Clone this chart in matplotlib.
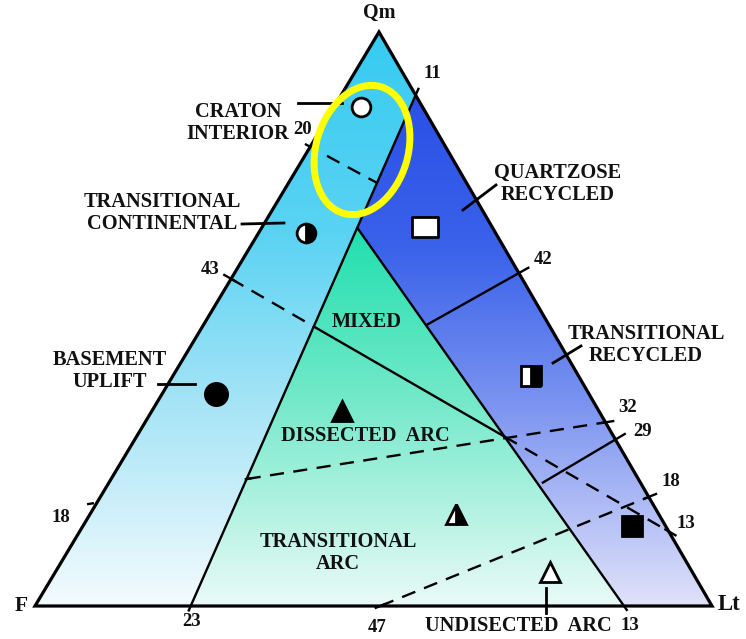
import numpy as np
import matplotlib.pyplot as plt
from matplotlib.patches import Polygon, Ellipse
from matplotlib.colors import LinearSegmentedColormap
from matplotlib.path import Path

# Dickinson QmFLt provenance diagram, all compositions as (Qm, F, Lt) percent

# field boundary lines
continental_line = [(0, 77, 23), (89, 0, 11)]
recycled_line = [(66, 20, 14), (0, 13, 87)]
line_42 = [(58, 0, 42), (49, 18, 33)]
line_29 = [(29, 0, 71), (21.4, 14.6, 64)]
line_43_13 = [(57, 43, 0), (13, 0, 87)]
line_18_32 = [(18, 82, 0), (32, 0, 68)]
line_47_18 = [(0, 49, 51), (19, 0, 81)]
line_20 = [(80, 20, 0), (73.7, 13.2, 13.1)]

# field symbols
sym_names = ['craton', 'trans_cont', 'basement', 'quartzose', 'trans_rec',
             'lithic_rec', 'dissected', 'trans_arc', 'undissected']
sym_qm = [87, 65, 37, 66, 40, 14, 34, 16, 6]
sym_f = [9, 28, 55, 10, 7, 5, 38, 30, 21]
sym_lt = [4, 7, 8, 24, 53, 81, 28, 54, 73]

# triangle corners on the page (pixels)
QM_PT = np.array([379.0, 32.0])
F_PT = np.array([35.0, 606.0])
LT_PT = np.array([712.0, 606.0])


def tern(p):
    qm, f, lt = p
    return (qm * QM_PT + f * F_PT + lt * LT_PT) / (qm + f + lt)


def intersect(a1, a2, b1, b2):
    d1 = a2 - a1
    d2 = b2 - b1
    m = np.array([d1, -d2]).T
    t = np.linalg.solve(m, b1 - a1)
    return a1 + t[0] * d1


def seg(ax, p, q, dashed=False, lw=1.7):
    ls = (0, (6, 4)) if dashed else '-'
    ax.plot([p[0], q[0]], [p[1], q[1]], color='black', lw=lw, ls=ls,
            solid_capstyle='butt', zorder=4)


def tick(ax, p, toward, out=9, inside=4):
    u = (toward - p) / np.linalg.norm(toward - p)
    seg(ax, p - out * u, p + inside * u)


fig = plt.figure(figsize=(7.46, 6.39), dpi=100)
ax = fig.add_axes([0, 0, 1, 1])

# coloured fields with vertical gradients
cont_poly = [QM_PT, tern(continental_line[1]), tern(continental_line[0]), F_PT]
rec_poly = [tern(continental_line[1]), tern(recycled_line[0]),
            tern(recycled_line[1]), LT_PT]
arc_poly = [tern(recycled_line[0]), tern(continental_line[0]), tern(recycled_line[1])]

fields = [
    (cont_poly, [(0, '#36cbf1'), (0.35, '#5ad3f3'), (0.65, '#a6e4f6'), (1, '#f4fbfe')]),
    (rec_poly, [(0, '#2a50e6'), (0.3, '#3a62ea'), (0.6, '#7a93f0'), (1, '#e0e2fa')]),
    (arc_poly, [(0, '#1fdfae'), (0.45, '#72e9c9'), (1, '#eafaf7')]),
]
for poly, cols in fields:
    pts = np.array(poly)
    y0, y1 = pts[:, 1].min(), pts[:, 1].max()
    x0, x1 = pts[:, 0].min(), pts[:, 0].max()
    cmap = LinearSegmentedColormap.from_list('g', cols)
    grad = np.linspace(0, 1, 256).reshape(-1, 1)
    im = ax.imshow(grad, cmap=cmap, extent=(x0, x1, y1, y0), origin='upper',
                   aspect='auto', zorder=1, interpolation='bilinear')
    patch = Polygon(pts, closed=True, transform=ax.transData)
    im.set_clip_path(patch)

# outer triangle
tri = Polygon([QM_PT, F_PT, LT_PT], closed=True, fill=False, ec='black',
              lw=2.3, joinstyle='miter', zorder=5)
ax.add_patch(tri)

# main boundaries
a0, a1 = tern(continental_line[0]), tern(continental_line[1])
b0, b1 = tern(recycled_line[0]), tern(recycled_line[1])
seg(ax, a0, a1)
seg(ax, b0, b1)
tick(ax, a0, a1, out=6, inside=0)
tick(ax, a1, a0, out=8, inside=0)
tick(ax, b1, b0, out=6, inside=0)

# 42 line
p, q = tern(line_42[0]), tern(line_42[1])
seg(ax, p, q)
tick(ax, p, q, out=12, inside=0)

# 29 line
p, q = tern(line_29[0]), tern(line_29[1])
seg(ax, p, q)
tick(ax, p, q, out=12, inside=0)

# 43 - 13 line: dashed / solid / dashed
p, q = tern(line_43_13[0]), tern(line_43_13[1])
i1 = intersect(p, q, a0, a1)
i2 = intersect(p, q, b0, b1)
seg(ax, p, i1, dashed=True)
seg(ax, i1, i2)
seg(ax, i2, q, dashed=True)
tick(ax, p, q, out=9, inside=6)
tick(ax, q, p, out=9, inside=5)

# 18 - 32 line, dashed right of the continental field
p, q = tern(line_18_32[0]), tern(line_18_32[1])
i3 = intersect(p, q, a0, a1)
seg(ax, i3, q, dashed=True)
tick(ax, i3, q, out=2, inside=5)
tick(ax, q, p, out=9, inside=5)
u = (q - p) / np.linalg.norm(q - p)
seg(ax, p - 10 * u, p - 3 * u)

# 47 - 18 line
p, q = tern(line_47_18[0]), tern(line_47_18[1])
seg(ax, p, q, dashed=True)
tick(ax, p, q, out=6, inside=6)
tick(ax, q, p, out=9, inside=5)

# 20 line inside the craton field
p, q = tern(line_20[0]), tern(line_20[1])
seg(ax, p + 0.25 * (q - p), q, dashed=True)
tick(ax, p, q, out=6, inside=0)

# symbols
xy = np.array([tern(v) for v in zip(sym_qm, sym_f, sym_lt)])
d = dict(zip(sym_names, xy))
kw = dict(mec='black', mew=2, ls='none', zorder=6)
rect = Path([(-1.35, -1), (1.35, -1), (1.35, 1), (-1.35, 1), (-1.35, -1)],
            [Path.MOVETO, Path.LINETO, Path.LINETO, Path.LINETO, Path.CLOSEPOLY])
ax.plot(*d['craton'], marker='o', ms=13.5, mfc='white', **kw)
ax.plot(*d['trans_cont'], marker='o', ms=13.5, mfc='black', mfcalt='white',
        fillstyle='right', **kw)
ax.plot(*d['basement'], marker='o', ms=16, mfc='black', **kw)
ax.plot(*d['quartzose'], marker=rect, ms=19, mfc='white', **kw)
ax.plot(*d['trans_rec'], marker='s', ms=14, mfc='black', mfcalt='white',
        fillstyle='right', **kw)
ax.plot(*d['lithic_rec'], marker='s', ms=14, mfc='black', **kw)
ax.plot(*d['dissected'], marker='^', ms=15, mfc='black', **kw)
ax.plot(*d['trans_arc'], marker='^', ms=15, mfc='black', mfcalt='white',
        fillstyle='right', **kw)
ax.plot(*d['undissected'], marker='^', ms=15, mfc='white', **kw)

# leaders
for (x0, y0), (x1, y1) in [((298, 103), (342, 103)), ((242, 224), (284, 223)),
                           ((158, 384), (195, 384)), ((463, 210), (496, 185)),
                           ((553, 363), (581, 346)), ((546, 588), (546, 613))]:
    ax.plot([x0, x1], [y0, y1], color='black', lw=2, zorder=4)

# yellow highlight
ax.add_patch(Ellipse((362, 150), 92, 132, angle=16.5, fill=False,
                     ec='#ffff00', lw=5, zorder=7))

tf = dict(family='Liberation Serif', weight='bold', color='#111111',
          ha='center', va='center', linespacing=1.12, zorder=8)
lab = 14.7
num = 13.5
ax.text(379, 13, 'Qm', fontsize=14.5, **tf)
ax.text(21, 606, 'F', fontsize=15.5, **tf)
ax.text(729, 604, 'Lt', fontsize=16.5, **tf)
ax.text(238, 123, 'CRATON\nINTERIOR', fontsize=lab, **tf)
ax.text(162, 213, 'TRANSITIONAL\nCONTINENTAL', fontsize=lab, **tf)
ax.text(110, 371, 'BASEMENT\nUPLIFT', fontsize=lab, **tf)
ax.text(558, 184, 'QUARTZOSE\nRECYCLED', fontsize=lab, **tf)
ax.text(646, 345, 'TRANSITIONAL\nRECYCLED', fontsize=lab, **tf)
ax.text(367, 322, 'MIXED', fontsize=lab, **tf)
ax.text(365, 436, 'DISSECTED  ARC', fontsize=lab, **tf)
ax.text(338, 553, 'TRANSITIONAL\nARC', fontsize=lab, **tf)
ax.text(518, 626, 'UNDISECTED  ARC', fontsize=lab, **tf)

for s, x, y in [('11', 432, 74), ('20', 303, 129), ('42', 543, 260),
                ('43', 210, 270), ('32', 628, 408), ('29', 643, 432),
                ('18', 671, 482), ('13', 686, 523), ('18', 61, 518),
                ('23', 192, 622), ('47', 377, 628), ('13', 630, 626)]:
    ax.text(x, y, s, fontsize=num, **tf)

ax.set_xlim(0, 746)
ax.set_ylim(639, 0)
ax.axis('off')
fig.savefig('out.png', dpi=100)
